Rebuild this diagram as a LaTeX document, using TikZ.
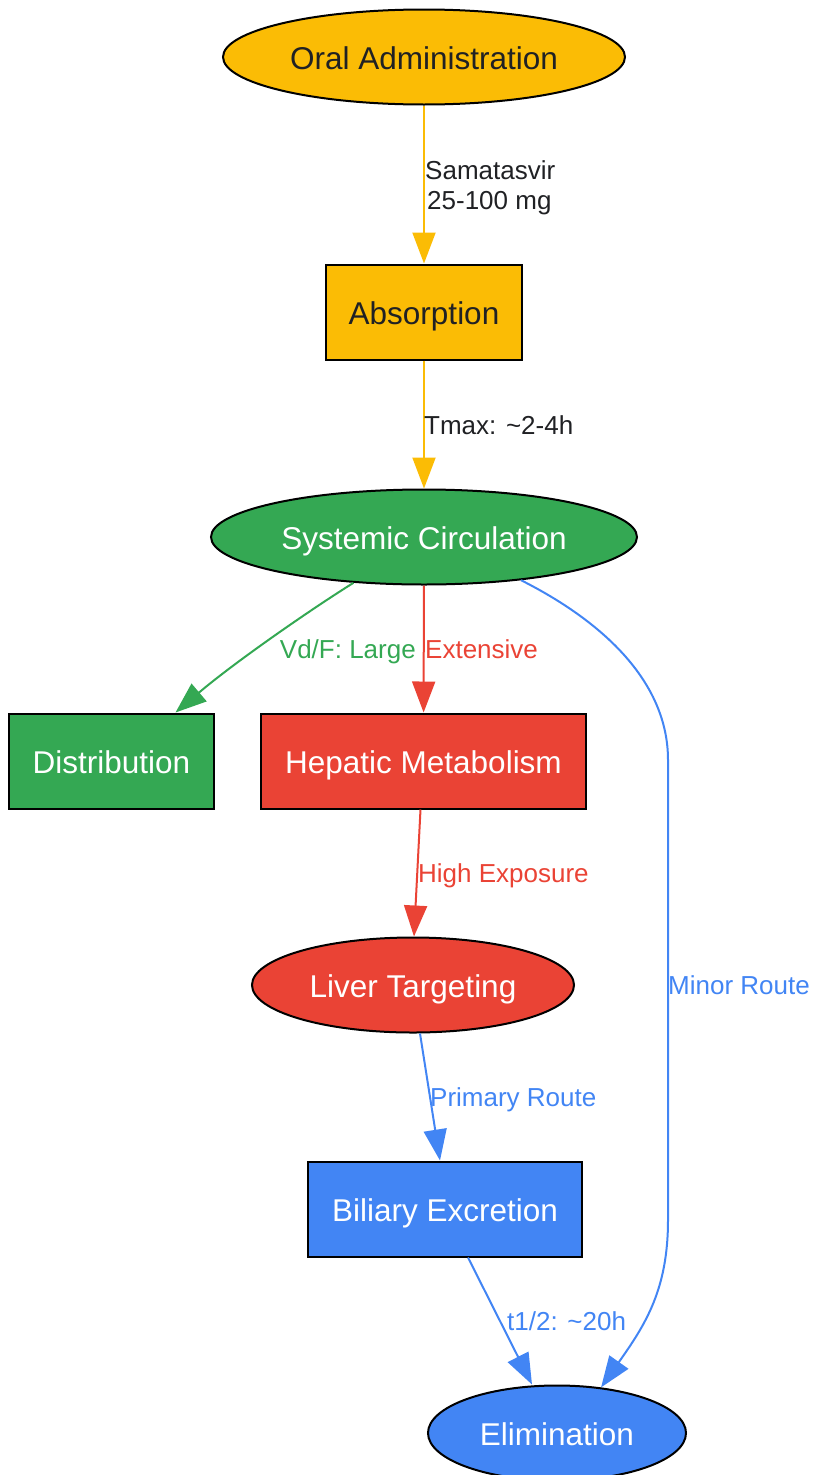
\documentclass[tikz,border=0pt]{standalone}
\usepackage{fontspec}
\setmainfont{Liberation Sans}
\usepackage{tikz}
\usetikzlibrary{shapes.geometric,arrows.meta}
\definecolor{pk yellow}{HTML}{FBBC05}
\definecolor{pk green}{HTML}{34A853}
\definecolor{pk red}{HTML}{EA4335}
\definecolor{pk blue}{HTML}{4285F4}
\definecolor{pk dark}{HTML}{202124}
\tikzset{
	stagebox/.style = {draw=black, line width=2pt, inner sep=0pt, text height=24pt, text depth=0pt, font=\fontsize{31.5}{38}\selectfont},
	stageoval/.style = {stagebox, ellipse},
	stagerect/.style = {stagebox, rectangle, minimum height=95pt},
	flow/.style = {line width=2pt, -{Triangle[length=31pt,width=23pt]}},
	flowlabel/.style = {inner sep=0pt, anchor=west, text height=18.6pt, text depth=0pt, font=\fontsize{26}{30}\selectfont}
}

\begin{document}
\begin{tikzpicture}[x=1pt, y=-1pt]
		\useasboundingbox (0, 0) rectangle (816, 1475);
		% stages
		\node[stageoval, fill=pk yellow, text=pk dark, minimum width=402pt, minimum height=95pt] (oral) at (424, 57) {Oral Administration};
		\node[stagerect, fill=pk yellow, text=pk dark, minimum width=196pt] (abs) at (424, 312) {Absorption};
		\node[stageoval, fill=pk green, text=white, minimum width=426pt, minimum height=95pt] (sys) at (424, 537) {Systemic Circulation};
		\node[stagerect, fill=pk green, text=white, minimum width=205pt] (dist) at (111.5, 761) {Distribution};
		\node[stagerect, fill=pk red, text=white, minimum width=325pt] (hep) at (423.5, 761) {Hepatic Metabolism};
		\node[stageoval, fill=pk red, text=white, minimum width=322pt, minimum height=95pt] (liv) at (413, 985) {Liver Targeting};
		\node[stagerect, fill=pk blue, text=white, minimum width=274pt] (bil) at (445, 1209) {Biliary Excretion};
		\node[stageoval, fill=pk blue, text=white, minimum width=258pt, minimum height=95pt] (elim) at (557, 1433) {Elimination};
		% connectors
		\draw[flow, pk yellow] (oral) -- (abs);
		\draw[flow, pk yellow] (abs) -- (sys);
		\draw[flow, pk green] (sys.213) .. controls (310, 610) and (235, 662) .. ([xshift=64pt]dist.north);
		\draw[flow, pk red] (sys) -- (hep);
		\draw[flow, pk red] ([xshift=-3pt]hep.south) -- ([xshift=1pt]liv.north);
		\draw[flow, pk blue] ([xshift=7pt]liv.south) -- ([xshift=-5pt]bil.north);
		\draw[flow, pk blue] ([xshift=23pt]bil.south) -- ([xshift=-25pt]elim.north);
		\draw[flow, pk blue] (sys.-24) .. controls (600, 620) and (668, 680) .. (668, 760)
			-- (668, 1220) .. controls (668, 1290) and (645, 1325) .. (elim.46);
		% connector labels
		\node[flowlabel, text=pk dark] (dose) at (425, 170) {Samatasvir};
		\node[flowlabel, text=pk dark] (dosemg) at (427, 200) {25-100 mg};
		\node[flowlabel, text=pk dark] (tmax) at (424, 425) {Tmax: \textasciitilde2-4h};
		\node[flowlabel, text=pk green, anchor=east] (vdf) at (416, 649) {Vd/F: Large};
		\node[flowlabel, text=pk red] (ext) at (425, 649) {Extensive};
		\node[flowlabel, text=pk red] (expo) at (418, 873) {High Exposure};
		\node[flowlabel, text=pk blue] (minor) at (668, 985) {Minor Route};
		\node[flowlabel, text=pk blue] (primary) at (430, 1097) {Primary Route};
		\node[flowlabel, text=pk blue] (half) at (507, 1321) {t1/2: \textasciitilde20h};
	\end{tikzpicture}
\end{document}
